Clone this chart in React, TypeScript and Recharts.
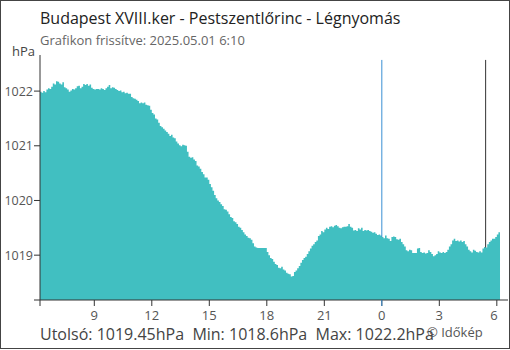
import React from 'react';
import { AreaChart, Area, XAxis, YAxis, ReferenceLine } from 'recharts';

// 5 perces mérések 6:10-től (előző nap) 6:10-ig, hPa
const STEP_MIN = 5;
const pressure = [
  1021.99, 1021.97, 1022.0, 1021.98, 1022.03, 1022.05, 1022.04, 1022.08, 1022.14, 1022.12,
  1022.18, 1022.17, 1022.14, 1022.12, 1022.16, 1022.07, 1022.05, 1022.03, 1021.99, 1022.01,
  1022.04, 1022.03, 1022.05, 1022.09, 1022.1, 1022.05, 1022.08, 1022.13, 1022.11, 1022.13,
  1022.1, 1022.12, 1022.06, 1022.04, 1022.03, 1022.04, 1022.04, 1022.03, 1022.05, 1022.04,
  1022.02, 1022.05, 1022.08, 1022.11, 1022.05, 1022.07, 1022.06, 1022.04, 1022.02, 1022.0,
  1022.01, 1021.98, 1021.99, 1021.96, 1021.97, 1021.95, 1021.95, 1021.89, 1021.87, 1021.86,
  1021.84, 1021.82, 1021.78, 1021.79, 1021.78, 1021.79, 1021.75, 1021.74, 1021.73, 1021.66,
  1021.6, 1021.57, 1021.5, 1021.48, 1021.42, 1021.36, 1021.34, 1021.31, 1021.28, 1021.25,
  1021.22, 1021.18, 1021.2, 1021.15, 1021.14, 1021.08, 1021.04, 1021.01, 1020.99, 1021.02,
  1021.01, 1021.0, 1020.89, 1020.8, 1020.78, 1020.79, 1020.75, 1020.72, 1020.64, 1020.62,
  1020.58, 1020.52, 1020.48, 1020.42, 1020.42, 1020.38, 1020.3, 1020.24, 1020.18, 1020.1,
  1020.04, 1020.0, 1019.97, 1019.93, 1019.9, 1019.84, 1019.83, 1019.8, 1019.75, 1019.7,
  1019.68, 1019.62, 1019.6, 1019.57, 1019.52, 1019.5, 1019.46, 1019.42, 1019.38, 1019.35,
  1019.32, 1019.31, 1019.28, 1019.22, 1019.16, 1019.14, 1019.13, 1019.13, 1019.13, 1019.13,
  1019.13, 1019.13, 1019.06, 1019.0, 1018.95, 1018.93, 1018.88, 1018.84, 1018.82, 1018.77,
  1018.76, 1018.79, 1018.74, 1018.72, 1018.68, 1018.66, 1018.65, 1018.61, 1018.62, 1018.69,
  1018.72, 1018.76, 1018.8, 1018.86, 1018.91, 1018.95, 1018.97, 1019.02, 1019.07, 1019.12,
  1019.17, 1019.2, 1019.24, 1019.27, 1019.35, 1019.38, 1019.44, 1019.42, 1019.47, 1019.5,
  1019.48, 1019.52, 1019.53, 1019.51, 1019.54, 1019.55, 1019.53, 1019.5, 1019.49, 1019.51,
  1019.52, 1019.52, 1019.53, 1019.57, 1019.52, 1019.5, 1019.45, 1019.46, 1019.44, 1019.49,
  1019.47, 1019.5, 1019.44, 1019.46, 1019.45, 1019.46, 1019.44, 1019.43, 1019.41, 1019.42,
  1019.39, 1019.37, 1019.38, 1019.36, 1019.33, 1019.31, 1019.36, 1019.31, 1019.3, 1019.26,
  1019.33, 1019.34, 1019.33, 1019.29, 1019.28, 1019.3, 1019.24, 1019.2, 1019.16, 1019.09,
  1019.07, 1019.1, 1019.09, 1019.04, 1019.04, 1019.04, 1019.12, 1019.13, 1019.06, 1019.04,
  1019.05, 1019.03, 1019.04, 1019.09, 1019.06, 1019.02, 1018.98, 1019.0, 1019.02, 1019.07,
  1019.05, 1019.04, 1019.06, 1019.04, 1019.06, 1019.1, 1019.16, 1019.2, 1019.27, 1019.3,
  1019.26, 1019.27, 1019.25, 1019.27, 1019.24, 1019.26, 1019.2, 1019.16, 1019.1, 1019.07,
  1019.05, 1019.1, 1019.08, 1019.06, 1019.05, 1019.07, 1019.05, 1019.12, 1019.15, 1019.14,
  1019.2, 1019.24, 1019.27, 1019.3, 1019.3, 1019.33, 1019.38, 1019.42, 1019.45,
];

// percek 6:10-től
const hourTicks = [0, 170, 350, 530, 710, 890, 1070, 1250, 1430];
const hourLabels = ['', '9', '12', '15', '18', '21', '0', '3', '6'];
const pressureTicks = [1018.18, 1019, 1020, 1021, 1022];
const pressureLabels = ['', '1019', '1020', '1021', '1022'];
const MIDNIGHT = 1070;
const SUNRISE = 1395;
const LINE_TOP = 1022.57;

const data = pressure.map((p, i) => ({ t: i * STEP_MIN, p }));
const valueAt = (min: number) => pressure[Math.round(min / STEP_MIN)];

const FONT = "'Open Sans', 'Noto Sans', sans-serif";

const XTick = (props: any) => {
  const { x, y, payload } = props;
  const idx = hourTicks.indexOf(payload.value);
  return (
    <g>
      {payload.value === MIDNIGHT && (
        <line x1={x} x2={x} y1={y - 11} y2={y - 5} stroke="#3a8fd3" strokeWidth={1} />
      )}
      <text x={x} y={y} dy="0.71em" textAnchor="middle" fill="#555" fontSize={13} fontFamily={FONT}>
        {hourLabels[idx]}
      </text>
    </g>
  );
};

export default function App() {
  return (
    <div style={{ position: 'absolute', left: 0, top: 0, width: 510, height: 350, background: '#fff' }}>
      <AreaChart
        width={510}
        height={350}
        data={data}
        margin={{ top: 55, right: 2, bottom: 20, left: 0 }}
      >
        <XAxis
          dataKey="t"
          type="number"
          domain={[0, 1465]}
          ticks={hourTicks}
          tick={<XTick />}
          tickSize={6}
          tickMargin={5}
          height={30}
          stroke="#333"
          tickLine={{ stroke: '#333' }}
          allowDataOverflow
        />
        <YAxis
          type="number"
          domain={[1018.18, 1022.66]}
          ticks={pressureTicks}
          tickFormatter={(v: number) => pressureLabels[pressureTicks.indexOf(v)] ?? ''}
          width={40}
          tickSize={6}
          tickMargin={1}
          stroke="#333"
          tick={{ fill: '#555', fontSize: 12.5, fontFamily: FONT }}
          allowDataOverflow
        />
        <ReferenceLine
          segment={[{ x: MIDNIGHT, y: LINE_TOP }, { x: MIDNIGHT, y: valueAt(MIDNIGHT) }]}
          stroke="#3a8fd3"
          strokeWidth={1}
        />
        <ReferenceLine
          segment={[{ x: SUNRISE, y: LINE_TOP }, { x: SUNRISE, y: valueAt(SUNRISE) }]}
          stroke="#333"
          strokeWidth={1}
        />
        <Area
          type="stepAfter"
          dataKey="p"
          stroke="none"
          fill="#41bfc1"
          fillOpacity={1}
          isAnimationActive={false}
          dot={false}
          activeDot={false}
        />
      </AreaChart>
      <svg
        width={510}
        height={350}
        style={{ position: 'absolute', left: 0, top: 0, pointerEvents: 'none' }}
        fontFamily={FONT}
      >
        <text x={40} y={24} fontSize={16} fill="#222">
          Budapest XVIII.ker - Pestszentlőrinc - Légnyomás
        </text>
        <text x={40} y={45} fontSize={13} fill="#666">
          Grafikon frissítve: 2025.05.01 6:10
        </text>
        <text x={12} y={56} fontSize={13} fill="#444">
          hPa
        </text>
        <text x={40} y={340} fontSize={16} fill="#444" xmlSpace="preserve">
          {'Utolsó: 1019.45hPa  Min: 1018.6hPa  Max: 1022.2hPa'}
        </text>
        <text x={427} y={337} fontSize={13} fill="#555">
          © Időkép
        </text>
      </svg>
      <div
        style={{
          position: 'absolute',
          left: 0,
          top: 0,
          width: 508,
          height: 347,
          border: '1px solid #444',
          pointerEvents: 'none',
        }}
      />
    </div>
  );
}
